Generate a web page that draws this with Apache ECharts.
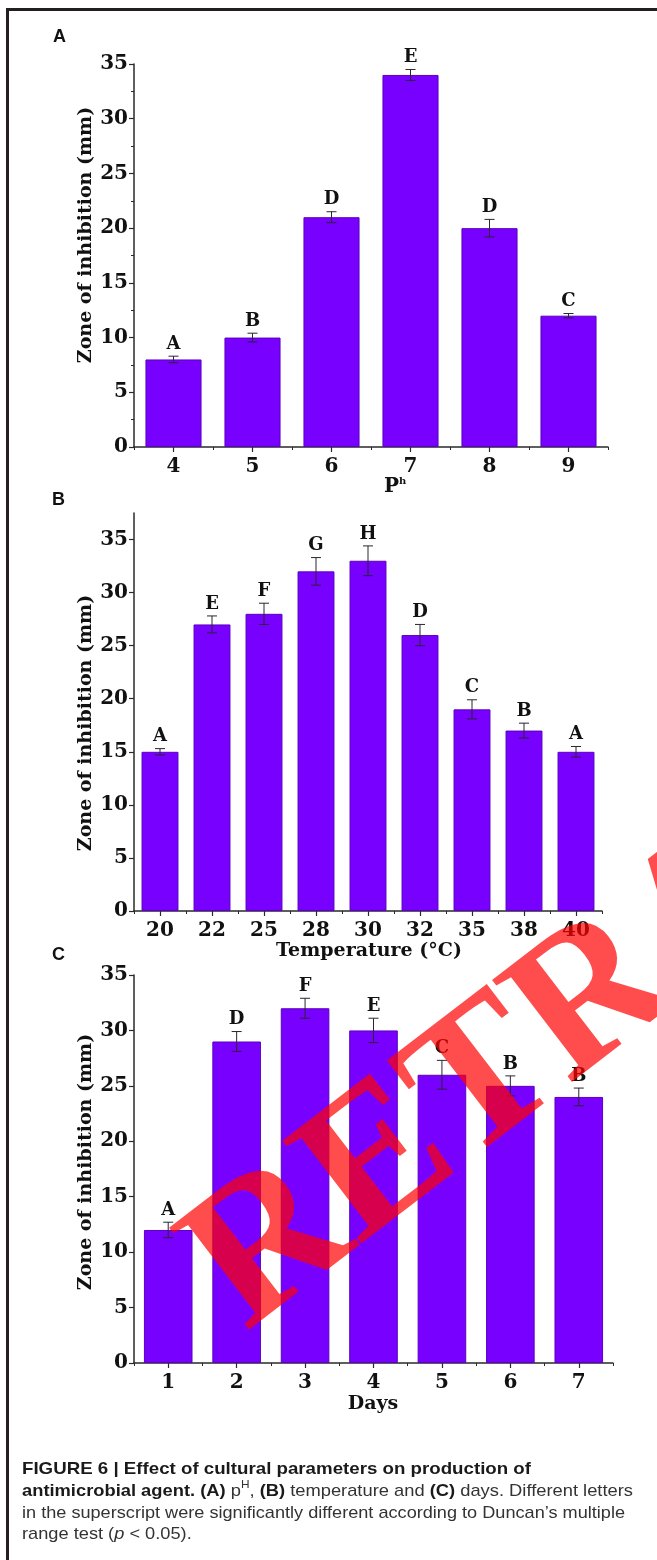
<!DOCTYPE html>
<html><head><meta charset="utf-8">
<script src="https://cdn.jsdelivr.net/npm/echarts@6/dist/echarts.min.js"></script>
<style>html,body{margin:0;padding:0;background:#fff}#c{width:657px;height:1560px}</style>
</head><body><div id="c"></div>
<script>
// ---------- data ----------
const phCategories = ['4', '5', '6', '7', '8', '9'];
const phValues = [8, 10, 21, 34, 20, 12];
const phErrors = [0.3, 0.4, 0.5, 0.5, 0.8, 0.2];
const phLetters = ['A', 'B', 'D', 'E', 'D', 'C'];

const tempCategories = ['20', '22', '25', '28', '30', '32', '35', '38', '40'];
const tempValues = [15, 27, 28, 32, 33, 26, 19, 17, 15];
const tempErrors = [0.3, 0.8, 1.0, 1.3, 1.4, 1.0, 0.9, 0.7, 0.5];
const tempLetters = ['A', 'E', 'F', 'G', 'H', 'D', 'C', 'B', 'A'];

const dayCategories = ['1', '2', '3', '4', '5', '6', '7'];
const dayValues = [12, 29, 32, 30, 26, 25, 24];
const dayErrors = [0.7, 0.9, 0.9, 1.1, 1.3, 0.9, 0.8];
const dayLetters = ['A', 'D', 'F', 'E', 'C', 'B', 'B'];

const yTickValues = [0, 5, 10, 15, 20, 25, 30, 35];

const yAxisTitle = 'Zone of inhibition (mm)';
const panelLabels = ['A', 'B', 'C'];
const captionLines = [
  [['FIGURE 6 | Effect of cultural parameters on production of', 'b']],
  [['antimicrobial agent. (A)', 'b'], [' p', 'r'], ['H', 'sup'], [', ', 'r'], ['(B)', 'b'], [' temperature and ', 'r'], ['(C)', 'b'], [' days. Different letters', 'r']],
  [['in the superscript were significantly different according to Duncan\u2019s multiple', 'r']],
  [['range test (', 'r'], ['p', 'i'], [' < 0.05).', 'r']]
];
const watermarkText = 'RETRACTED';

// ---------- layout ----------
const SERIF = '"DejaVu Serif", "Liberation Serif", serif';
const BAR_COLOR = '#7700ff';
const AXIS_COLOR = '#2a2a2a';
const panels = [
  {cats: phCategories, vals: phValues, errs: phErrors, letters: phLetters,
   grid: {left: 134, top: 64, width: 474, height: 383}, yMax: 35, minor: true},
  {cats: tempCategories, vals: tempValues, errs: tempErrors, letters: tempLetters,
   grid: {left: 134, top: 513, width: 468, height: 398}, yMax: 37.5, minor: false},
  {cats: dayCategories, vals: dayValues, errs: dayErrors, letters: dayLetters,
   grid: {left: 134, top: 975, width: 479, height: 388}, yMax: 35, minor: false}
];

const chart = echarts.init(document.getElementById('c'), null, {renderer: 'canvas'});

const grids = [], xAxes = [], yAxes = [], series = [];
panels.forEach((p, k) => {
  grids.push(p.grid);
  xAxes.push({
    type: 'category', gridIndex: k, data: p.cats, position: 'bottom',
    axisLine: {show: true, lineStyle: {color: AXIS_COLOR, width: 1.5}},
    axisTick: {show: true, alignWithLabel: true, length: 5, lineStyle: {color: AXIS_COLOR, width: 1.2}},
    axisLabel: {show: true, margin: 10, color: '#111', fontFamily: SERIF, fontWeight: 'bold', fontSize: 20},
    splitLine: {show: false}
  });
  xAxes.push({
    type: 'category', gridIndex: k, data: p.cats, position: 'bottom', offset: 0,
    axisLine: {show: false},
    axisTick: {show: true, alignWithLabel: false, length: 3, lineStyle: {color: AXIS_COLOR, width: 1}},
    axisLabel: {show: false}, splitLine: {show: false}
  });
  yAxes.push({
    type: 'value', gridIndex: k, min: 0, max: p.yMax, interval: 5,
    axisLine: {show: true, lineStyle: {color: AXIS_COLOR, width: 1.5}},
    axisTick: {show: true, length: 5, customValues: yTickValues, lineStyle: {color: AXIS_COLOR, width: 1.2}},
    minorTick: {show: p.minor, splitNumber: 2, length: 3, lineStyle: {color: AXIS_COLOR, width: 1}},
    axisLabel: {show: true, margin: 6, customValues: yTickValues, color: '#111', fontFamily: SERIF, fontWeight: 'bold', fontSize: 20,
      formatter: v => (v % 5 === 0 ? String(v) : '')},
    splitLine: {show: false}
  });
  series.push({
    type: 'bar', xAxisIndex: 2 * k, yAxisIndex: k, data: p.vals,
    barCategoryGap: '29%',
    itemStyle: {color: BAR_COLOR, borderColor: '#5a00c0', borderWidth: 1},
    silent: true
  });
  series.push({
    type: 'custom', xAxisIndex: 2 * k, yAxisIndex: k, silent: true, z: 5,
    data: p.vals.map((v, i) => [i, v, p.errs[i]]),
    encode: {x: 0, y: 1},
    renderItem: (params, api) => {
      const i = api.value(0), v = api.value(1), e = api.value(2);
      const top = api.coord([i, v + e]);
      const bot = api.coord([i, v - e]);
      const x = top[0], hw = 5;
      const ls = {stroke: '#2b2530', lineWidth: 1};
      return {type: 'group', children: [
        {type: 'line', shape: {x1: x, y1: top[1], x2: x, y2: bot[1]}, style: ls},
        {type: 'line', shape: {x1: x - hw, y1: top[1], x2: x + hw, y2: top[1]}, style: ls},
        {type: 'line', shape: {x1: x - hw, y1: bot[1], x2: x + hw, y2: bot[1]}, style: ls},
        {type: 'text', x: x, y: top[1] - 3, style: {text: p.letters[params.dataIndex],
          font: 'bold 18px ' + SERIF, fill: '#111', align: 'center', verticalAlign: 'bottom',
          textAlign: 'center', textVerticalAlign: 'bottom'}}
      ]};
    }
  });
});

// ---------- texts ----------
const graphics = [];
// figure frame (top + left rule)
graphics.push({type: 'rect', shape: {x: 6, y: 8, width: 651, height: 3}, style: {fill: '#231f20'}, silent: true});
graphics.push({type: 'rect', shape: {x: 6, y: 8, width: 3, height: 1552}, style: {fill: '#231f20'}, silent: true});

const labelPos = [[53, 37], [52, 500], [52, 955]];
panelLabels.forEach((t, k) => graphics.push({type: 'text', x: labelPos[k][0], y: labelPos[k][1],
  style: {text: t, font: 'bold 18px "Liberation Sans", Arial, sans-serif', fill: '#111',
    align: 'left', verticalAlign: 'middle', textAlign: 'left', textVerticalAlign: 'middle'}}));

const yTitleCenters = [[86, 235], [86, 723], [86, 1162]];
yTitleCenters.forEach(c => graphics.push({type: 'text', x: c[0], y: c[1], rotation: Math.PI / 2,
  style: {text: yAxisTitle, font: 'bold 19px ' + SERIF, fill: '#111',
    align: 'center', verticalAlign: 'middle', textAlign: 'center', textVerticalAlign: 'middle'}}));

// x-axis titles
function ctext(x, y, text, font, align) {
  return {type: 'text', x: x, y: y, style: {text: text, font: font, fill: '#111',
    align: align || 'center', verticalAlign: 'middle', textAlign: align || 'center', textVerticalAlign: 'middle'}};
}
graphics.push(ctext(399, 487, 'P', 'bold 20px ' + SERIF, 'right'));
graphics.push(ctext(399, 481, 'h', 'bold 10px ' + SERIF, 'left'));
graphics.push(ctext(369, 951, 'Temperature (\u00b0C)', 'bold 19px ' + SERIF));
graphics.push(ctext(373, 1404, 'Days', 'bold 19px ' + SERIF));

// caption
const capFonts = {
  b: 'bold 17px "Liberation Sans", Arial, sans-serif',
  r: '17px "Liberation Sans", Arial, sans-serif',
  i: 'italic 17px "Liberation Sans", Arial, sans-serif',
  sup: '11px "Liberation Sans", Arial, sans-serif'
};
const capColors = {b: '#1a1a1a', r: '#333', i: '#333', sup: '#333'};
const capX = 22;
const capY = [1469, 1491, 1513, 1534];
const capEnds = [531, 633, 625, null];
const mctx = document.createElement('canvas').getContext('2d');
const measure = (t, f) => { mctx.font = f; return mctx.measureText(t).width; };
const lineWidths = captionLines.map(line => line.reduce((s, seg) => s + measure(seg[0], capFonts[seg[1]]), 0));
const scales = lineWidths.map((w, i) => capEnds[i] ? (capEnds[i] - capX) / w : null);
const avgScale = (scales[1] + scales[2]) / 2;
captionLines.forEach((line, li) => {
  const sc = scales[li] || avgScale;
  let x = capX;
  line.forEach(seg => {
    const f = capFonts[seg[1]];
    const dy = seg[1] === 'sup' ? -6 : 0;
    graphics.push({type: 'text', x: x, y: capY[li] + dy, scaleX: sc,
      style: {text: seg[0], font: f, fill: capColors[seg[1]], align: 'left', verticalAlign: 'middle',
        textAlign: 'left', textVerticalAlign: 'middle'}});
    x += measure(seg[0], f) * sc;
  });
});

// watermark
graphics.push({type: 'text', x: 214, y: 1292, rotation: 37.5 * Math.PI / 180, z: 100, silent: true,
  style: {text: watermarkText, font: 'bold 198px "Liberation Serif", "Times New Roman", serif',
    fill: 'rgba(255,0,0,0.7)', align: 'left', verticalAlign: 'middle', textAlign: 'left', textVerticalAlign: 'middle'}});

chart.setOption({
  animation: false,
  backgroundColor: '#fff',
  grid: grids,
  xAxis: xAxes,
  yAxis: yAxes,
  series: series,
  graphic: graphics
});
</script></body></html>
